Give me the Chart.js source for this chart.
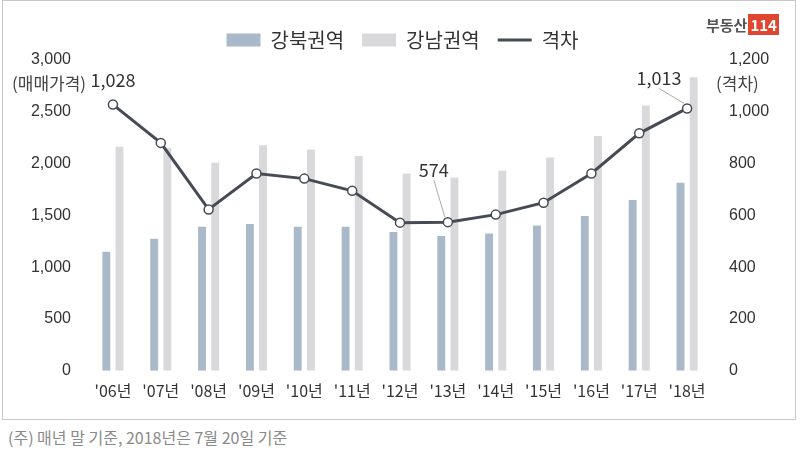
<!DOCTYPE html>
<html><head><meta charset="utf-8">
<script src="https://cdn.jsdelivr.net/npm/chart.js@4"></script>
<style>
body{margin:0;background:#fff;font-family:"Noto Sans CJK KR",sans-serif;}
#frame{position:absolute;left:2px;top:0;width:792px;height:418px;border:1px solid #c8c8c8;}
#wrap{position:absolute;left:0;top:0;width:805px;height:410px;}
#note{position:absolute;left:8px;top:425px;font-size:16px;color:#8a8a8a;}
#logo{position:absolute;left:706px;top:14px;font-size:15px;font-weight:bold;color:#555;}
#logo span{background:#e0452f;color:#fff;padding:0 2px;margin-left:1px;}
#lt{position:absolute;left:12px;top:70px;font-size:17px;color:#444;}
#rt{position:absolute;left:716px;top:70px;font-size:17px;color:#444;}
</style></head><body>
<div id="frame"></div>
<div id="wrap"><canvas id="c" width="805" height="410"></canvas></div>
<div id="lt">(매매가격)</div><div id="rt">(격차)</div>
<div id="logo">부동산<span>114</span></div>
<div id="note">(주) 매년 말 기준, 2018년은 7월 20일 기준</div>
<script>
const categories=["'06년","'07년","'08년","'09년","'10년","'11년","'12년","'13년","'14년","'15년","'16년","'17년","'18년"];
const gangbuk=[1150,1275,1390,1416,1390,1390,1340,1300,1326,1403,1494,1648,1815];
const gangnam=[2163,2150,2009,2176,2137,2073,1905,1867,1931,2060,2266,2562,2833];
const gap=[1028,880,623,762,742,695,572,574,603,649,762,917,1013];
const leftTicks=[0,500,1000,1500,2000,2500,3000];
const rightTicks=[0,200,400,600,800,1000,1200];
const labelIdx=[0,7,12];
const labelPlugin={id:'lbl',afterDatasetsDraw(ch){
  const c=ch.ctx,m=ch.getDatasetMeta(2);
  c.save();c.font='18px "Noto Sans CJK KR"';c.fillStyle='#333';c.textAlign='center';c.strokeStyle='#aaa';c.lineWidth=1;
  const off={0:[0,-24,false],7:[-14,-52,true],12:[-28,-30,true]};
  labelIdx.forEach(i=>{const p=m.data[i];const [dx,dy,ln]=off[i];
    if(ln){c.beginPath();c.moveTo(p.x-3,p.y-5);c.lineTo(p.x+dx,p.y+dy+10);c.stroke();}
    c.fillText(gap[i].toLocaleString('en-US'),p.x+dx,p.y+dy);});
  c.restore();}};
new Chart(document.getElementById('c'),{
 data:{labels:categories,datasets:[
  {type:'bar',label:'강북권역',data:gangbuk,backgroundColor:'#a9b9c9',yAxisID:'y',barPercentage:0.6,categoryPercentage:0.55,order:2,pointStyle:'rect'},
  {type:'bar',label:'강남권역',data:gangnam,backgroundColor:'#d9d9db',yAxisID:'y',barPercentage:0.6,categoryPercentage:0.55,order:3,pointStyle:'rect'},
  {type:'line',label:'격차',data:gap,borderColor:'#474b55',backgroundColor:'#474b55',borderWidth:3,pointBackgroundColor:'#fff',pointBorderColor:'#474b55',pointBorderWidth:1.5,pointRadius:4.5,yAxisID:'y1',order:1,pointStyle:'circle'}]},
 options:{responsive:false,animation:false,
  layout:{padding:{left:14,right:14,top:12,bottom:6}},
  plugins:{legend:{position:'top',labels:{font:{size:20,family:'Noto Sans CJK KR'},color:'#333',usePointStyle:true,pointStyleWidth:34,boxHeight:13,padding:18,
    sort:(a,b)=>a.datasetIndex-b.datasetIndex,
    generateLabels(ch){const l=Chart.defaults.plugins.legend.labels.generateLabels(ch);l.forEach(it=>{if(it.datasetIndex===2){it.pointStyle='line';it.lineWidth=3;it.strokeStyle='#474b55';}else{it.pointStyle='rect';it.lineWidth=0;}});return l;}}},tooltip:{enabled:false}},
  scales:{
   x:{grid:{display:false},border:{display:false},ticks:{font:{size:16,family:'Noto Sans CJK KR'},color:'#333',maxRotation:0,autoSkip:false}},
   y:{min:0,max:3000,afterBuildTicks(a){a.ticks=leftTicks.map(v=>({value:v}));},grid:{display:false},border:{display:false},
      ticks:{font:{size:16},color:'#333',padding:10,callback:v=>v.toLocaleString('en-US')},afterFit(a){a.width=75;}},
   y1:{position:'right',min:0,max:1200,afterBuildTicks(a){a.ticks=rightTicks.map(v=>({value:v}));},grid:{display:false},border:{display:false},
      ticks:{font:{size:16},color:'#333',padding:10,callback:v=>v.toLocaleString('en-US')},afterFit(a){a.width=80;}}}}
 ,plugins:[labelPlugin]});
</script>
</body></html>
